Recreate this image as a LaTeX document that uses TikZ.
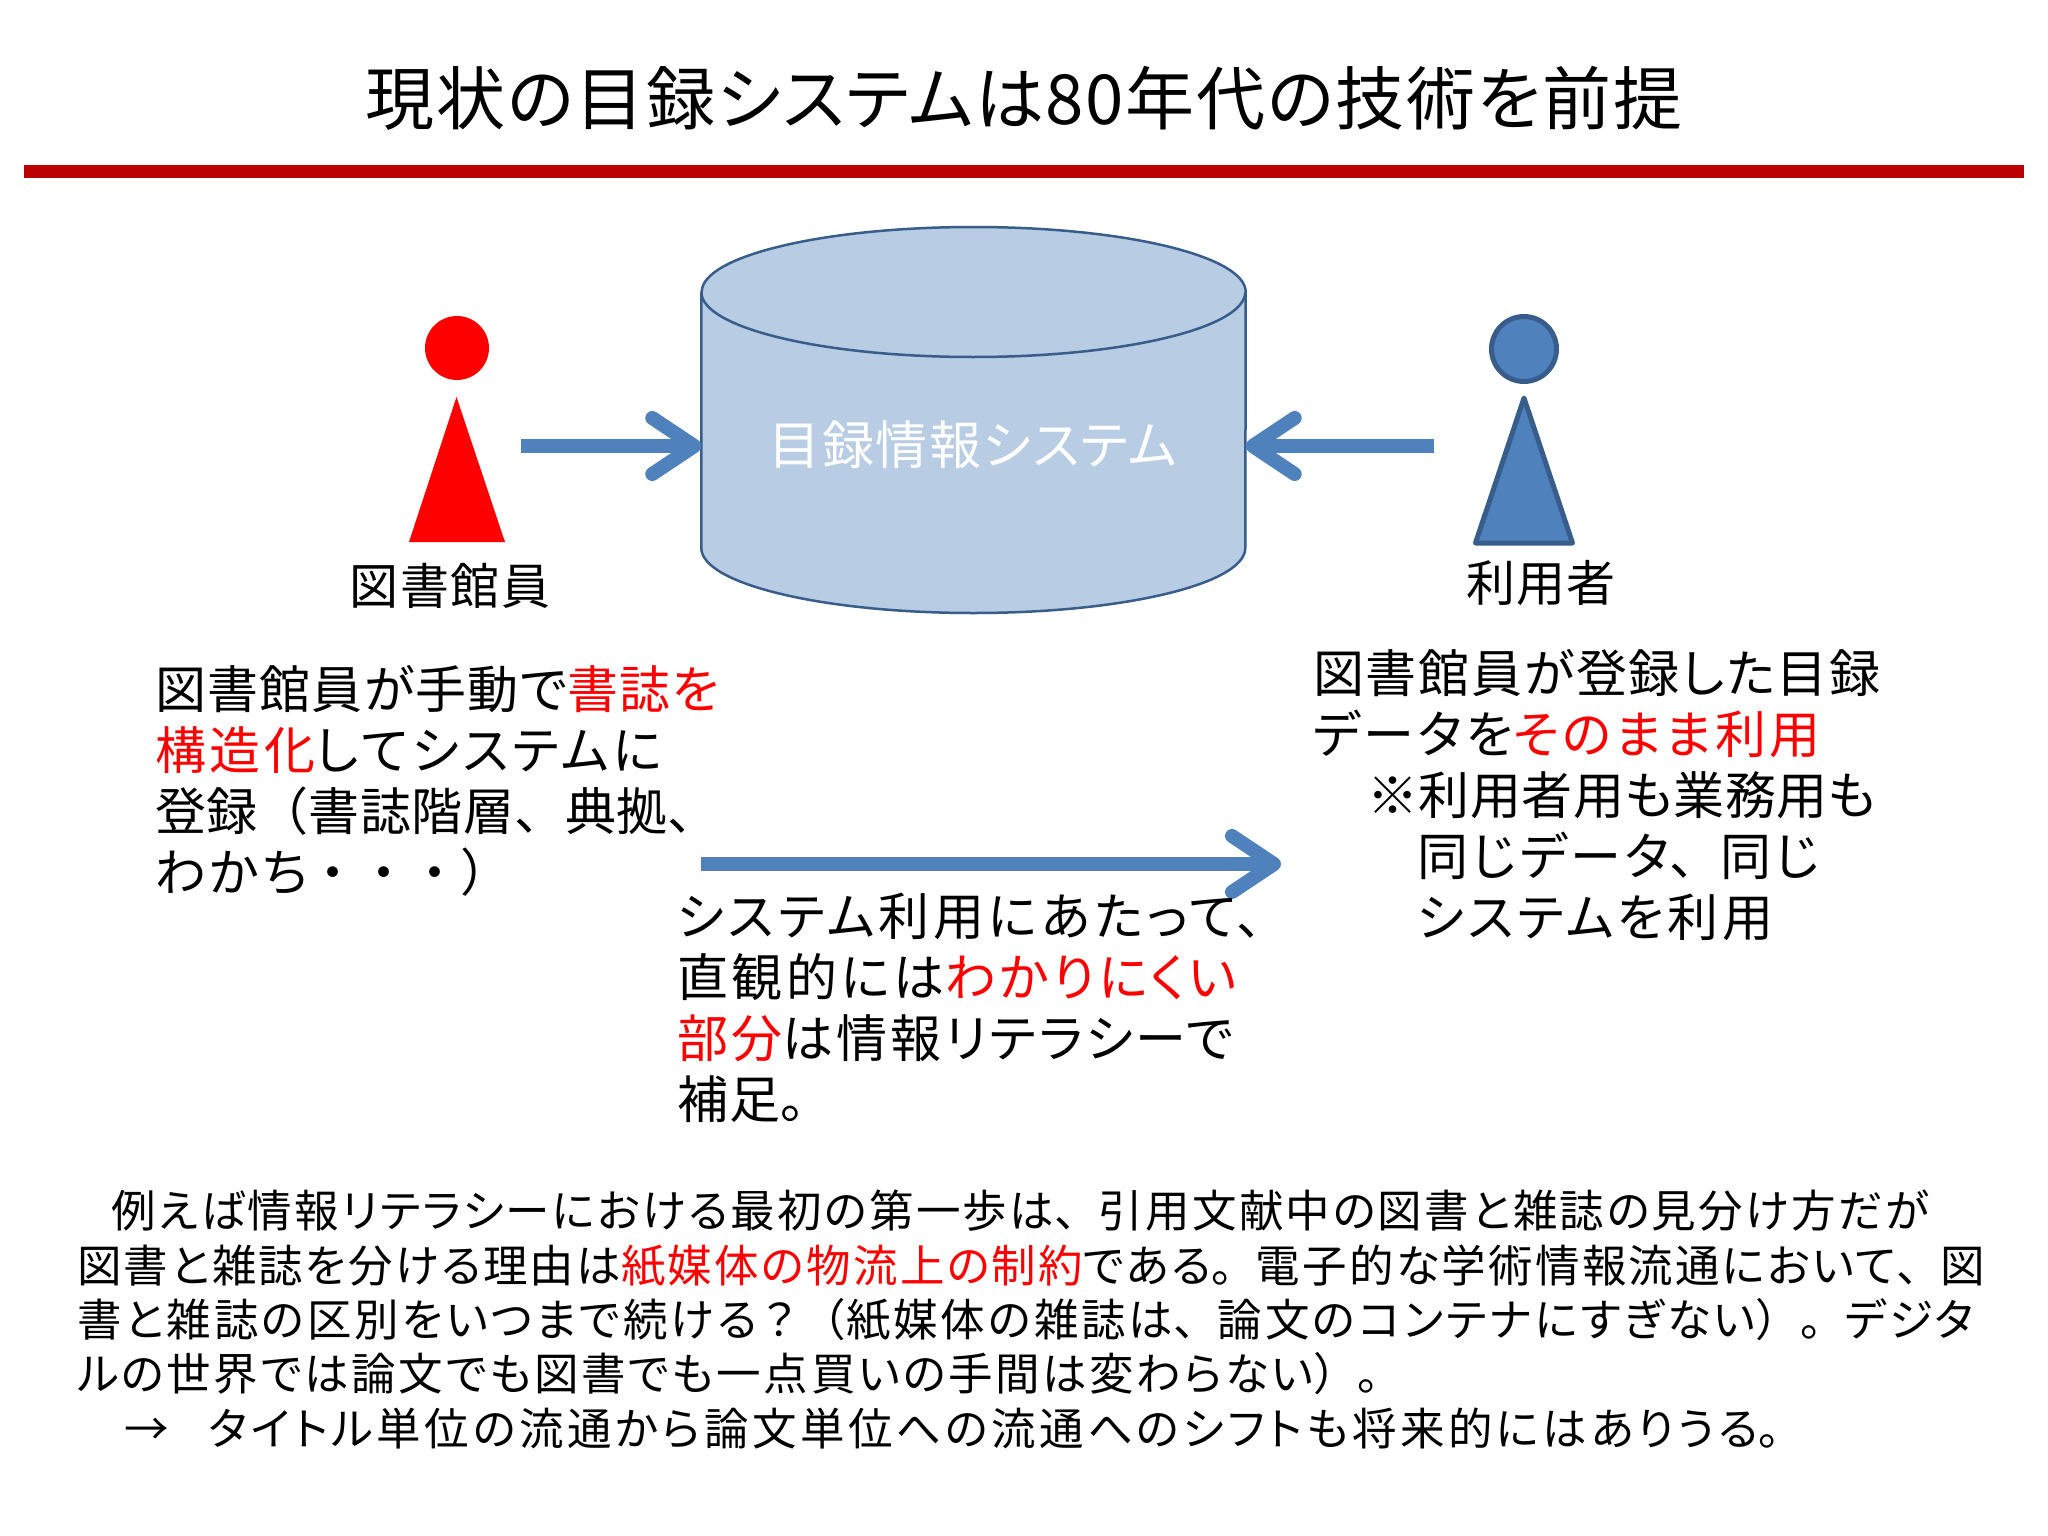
\documentclass[tikz,border=0pt]{standalone}
\usepackage{fontspec}
\setmainfont{Noto Sans CJK JP}[RawFeature=+palt]
\newfontfamily\fullwidth{Noto Sans CJK JP}
\usetikzlibrary{arrows.meta,shapes.geometric,positioning}
\definecolor{dbfill}{HTML}{B8CCE4}
\definecolor{dbline}{HTML}{385D8A}
\definecolor{userblue}{HTML}{4F81BD}
\definecolor{titlebar}{HTML}{BB0000}
\newcommand{\redtxt}[1]{\textcolor{red}{#1}}
\newcommand{\fw}[1]{{\fullwidth #1}}
\newcommand{\ls}[2]{{\addfontfeature{LetterSpace=#1}#2}}
\tikzset{
    database/.style={draw=dbline,fill=dbfill,line width=2.5pt,line join=round},
    personhead/.style={ellipse,inner sep=0pt},
    flow/.style={draw=userblue,line width=14pt,-{Straight Barb[length=42pt,width=56pt,round]}},
    rolename/.style={inner sep=0pt,font=\fontsize{49}{49}\selectfont\addfontfeature{LetterSpace=3}},
    block/.style={align=left,anchor=north west,inner sep=0pt,font=\fontsize{51}{61}\selectfont\addfontfeature{LetterSpace=3.5}},
    footnote/.style={align=left,anchor=north west,inner sep=0pt,font=\fontsize{44.5}{54.3}\selectfont\addfontfeature{LetterSpace=4.5}},
}

\begin{document}
\begin{tikzpicture}[x=1pt,y=-1pt]
\useasboundingbox (0,0) rectangle (2048,1536);
\node[inner sep=0pt,font=\fontsize{69}{69}\selectfont\addfontfeature{LetterSpace=2.5}](title) at (1024,98) {現状の目録システムは80年代の技術を前提};
\fill[titlebar] (24,165) rectangle (2024,178);

\node[minimum width=544pt,minimum height=386pt,inner sep=0pt](db) at (973.5,420) {};
\draw[database] (db.west |- 0,292) -- (db.west |- 0,548) arc[start angle=180,end angle=360,x radius=272pt,y radius=65pt] -- (db.east |- 0,292) arc[start angle=0,end angle=180,x radius=272pt,y radius=65pt] -- cycle;
\draw[database,fill=none] (db.west |- 0,292) arc[start angle=180,end angle=360,x radius=272pt,y radius=65pt];
\node[rolename,text=white,font=\fontsize{52}{52}\selectfont\addfontfeature{LetterSpace=3}](dbname) at (973,445) {目録情報システム};

\node[personhead,fill=red,minimum width=64pt,minimum height=64pt](staffhead) at (457,348) {};
\fill[red] (456.5,397) -- (505,542) -- (409,542) -- cycle;
\node[rolename](staffname) at (450,586) {図書館員};

\node[personhead,fill=userblue,draw=dbline,line width=5pt,minimum width=65pt,minimum height=65pt](userhead) at (1524,349) {};
\draw[fill=userblue,draw=dbline,line width=5pt,line join=round] (1524,398) -- (1572.5,543) -- (1475.5,543) -- cycle;
\node[rolename](username) at (1541,583) {利用者};

\coordinate (staffout) at (521,446);
\coordinate (userout) at (1433.5,446);
\coordinate (usestart) at (701,864);
\coordinate (useend) at (1281,864);
\draw[flow] (staffout) -- (staffout -| db.west);
\draw[flow] (userout) -- (userout -| db.east);
\draw[flow] (usestart) -- (useend);

\node[block](staffnote) at (155,665) {\ls{2.5}{図書館員が手動で\redtxt{書誌を}}\\\ls{7.5}{\redtxt{構造化}してシステムに}\\\ls{1}{登録\fw{（}書誌階層\fw{、}典拠\fw{、}}\\\ls{6}{わかち}\fw{・・・）}};
\node[block](usernote) at (1313,649) {図書館員が登録した目録\\\ls{6.5}{データを\redtxt{そのまま利用}}\\\hspace*{54pt}\ls{1}{※利用者用も業務用も}\\\hspace*{104pt}\ls{7}{同じデータ\fw{、}同じ}\\\hspace*{104pt}\ls{7}{システムを利用}};
\node[block](usenote) at (677,893) {\ls{7.7}{システム利用にあたって\fw{、}}\\\ls{7}{直観的には\redtxt{わかりにくい}}\\\ls{6.3}{\redtxt{部分}は情報リテラシーで}\\補足\fw{。}};
\node[footnote](bottomnote) at (77,1190) {\hspace*{34pt}\ls{5.2}{例えば情報リテラシーにおける最初の第一歩は\fw{、}引用文献中の図書と雑誌の見分け方だが}\\\ls{5}{図書と雑誌を分ける理由は\redtxt{紙媒体の物流上の制約}である\fw{。}電子的な学術情報流通において\fw{、}図}\\\ls{6.5}{書と雑誌の区別をいつまで続ける\fw{？（}紙媒体の雑誌は\fw{、}論文のコンテナにすぎない\fw{）。}デジタ}\\\ls{5.8}{ルの世界では論文でも図書でも一点買いの手間は変わらない\fw{）。}}\\\hspace*{47pt}→\hspace*{40pt}\ls{8}{タイトル単位の流通から論文単位への流通へのシフトも将来的にはありうる\fw{。}}};
\end{tikzpicture}
\end{document}
